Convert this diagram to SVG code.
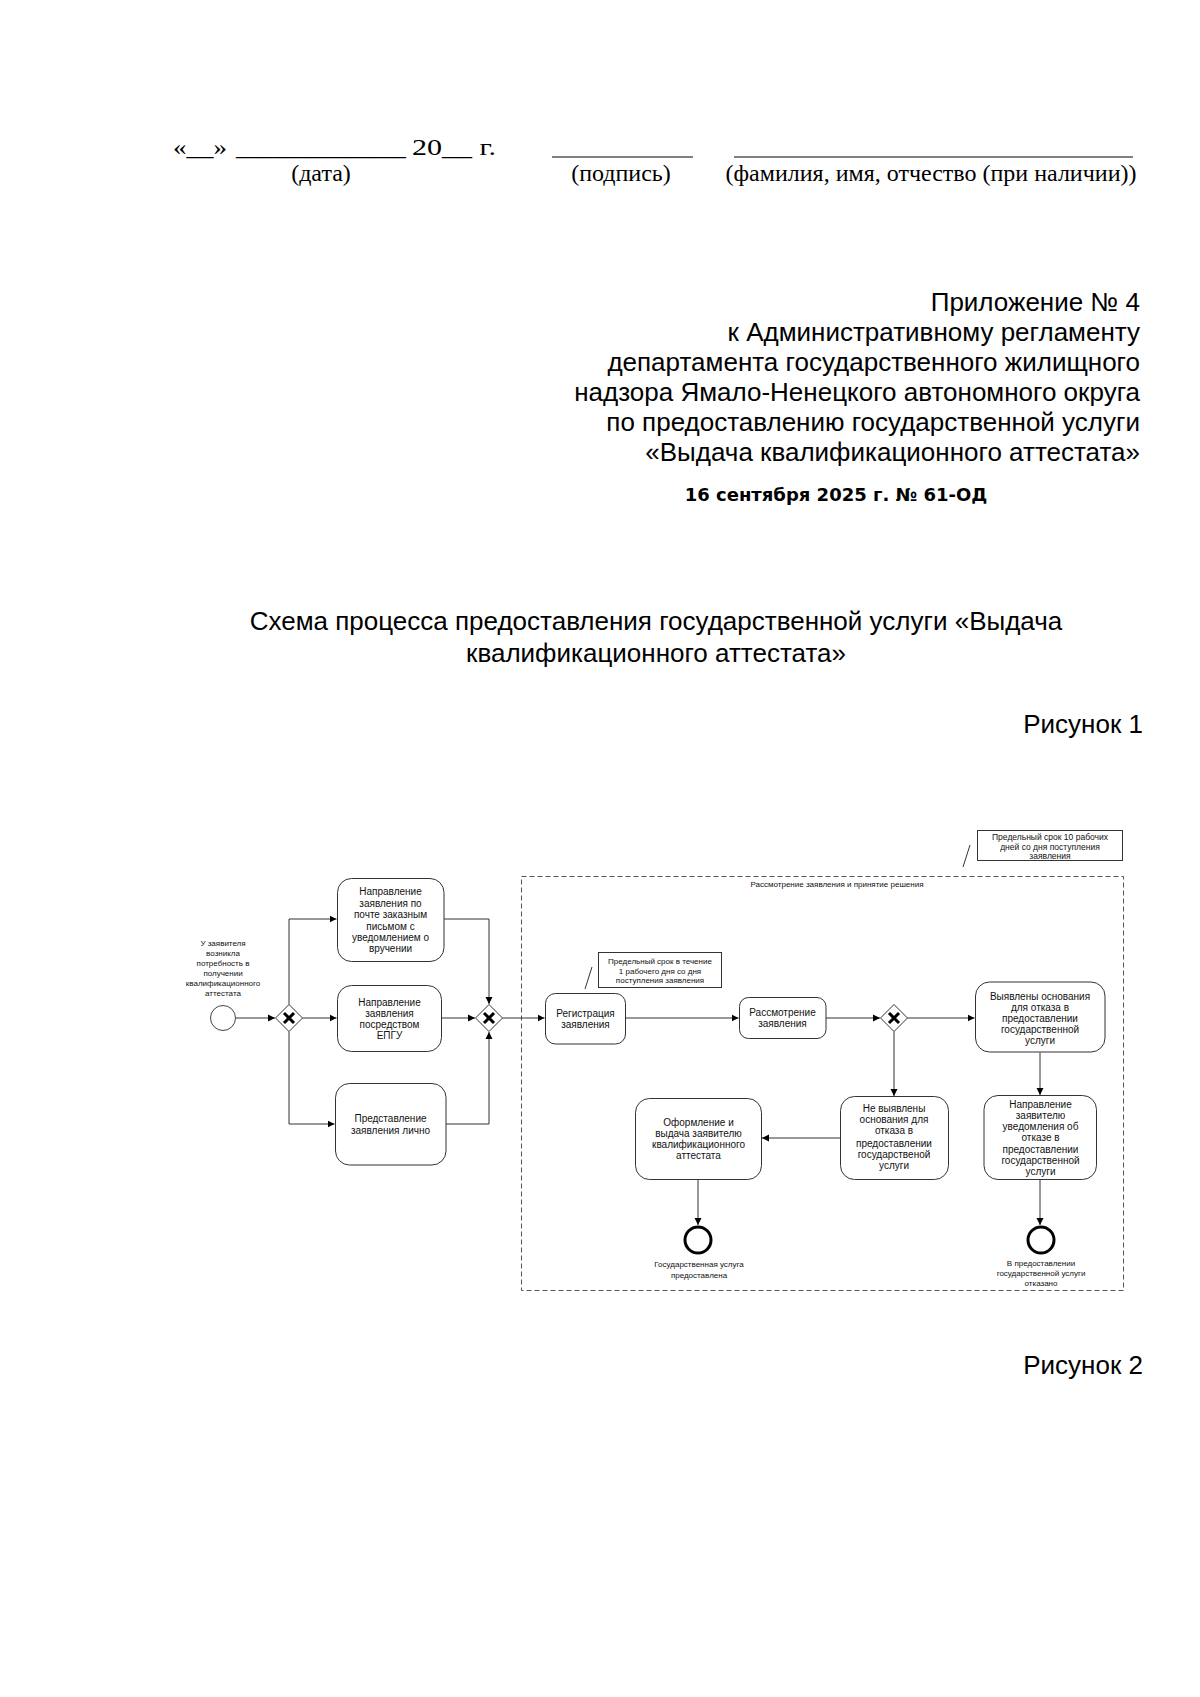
<svg xmlns="http://www.w3.org/2000/svg" width="1200" height="1697" viewBox="0 0 1200 1697">
<defs>
<style>
.serif{font-family:"Liberation Serif","Times New Roman",serif;font-size:24px;fill:#000}
.sans{font-family:"Liberation Sans",Arial,sans-serif;fill:#000}
.big{font-size:26px}
.t10{font-family:"Liberation Sans",Arial,sans-serif;font-size:10px;fill:#111;text-anchor:middle}
.t8{font-family:"Liberation Sans",Arial,sans-serif;font-size:8px;fill:#111;text-anchor:middle}
.task{fill:#fff;stroke:#333;stroke-width:1}
.gw{fill:#fff;stroke:#333;stroke-width:1}
.x{stroke:#000;stroke-width:3;stroke-linecap:butt}
.conn{fill:none;stroke:#333;stroke-width:1}
.note{fill:#fff;stroke:#333;stroke-width:1}
.endev{fill:#fff;stroke:#000;stroke-width:3}
.startev{fill:#fff;stroke:#444;stroke-width:1}
</style>
<marker id="arr" markerWidth="8" markerHeight="8" refX="7" refY="4" orient="auto" markerUnits="userSpaceOnUse">
<path d="M0,0.5 L7,4 L0,7.5 Z" fill="#000"/>
</marker>
</defs>
<rect width="1200" height="1697" fill="#fff"/>

<g id="signature">
<text class="serif" x="173" y="155" textLength="54" lengthAdjust="spacingAndGlyphs">«__»</text>
<text class="serif" x="236" y="155" textLength="170" lengthAdjust="spacingAndGlyphs">______________</text>
<text class="serif" x="412" y="155" textLength="84" lengthAdjust="spacingAndGlyphs">20__ г.</text>
<line x1="552" y1="157" x2="693" y2="157" stroke="#000" stroke-width="1"/>
<line x1="734" y1="157" x2="1133" y2="157" stroke="#000" stroke-width="1"/>
<text class="serif" x="321" y="181" text-anchor="middle">(дата)</text>
<text class="serif" x="621" y="181" text-anchor="middle">(подпись)</text>
<text class="serif" x="931" y="181" text-anchor="middle">(фамилия, имя, отчество (при наличии))</text>
</g>

<g id="appendix" class="sans big" text-anchor="end">
<text x="1140" y="311">Приложение № 4</text>
<text x="1140" y="341">к Административному регламенту</text>
<text x="1140" y="371">департамента государственного жилищного</text>
<text x="1140" y="401">надзора Ямало-Ненецкого автономного округа</text>
<text x="1140" y="431">по предоставлению государственной услуги</text>
<text x="1140" y="461">«Выдача квалификационного аттестата»</text>
</g>
<text id="date" x="836" y="501" text-anchor="middle" font-family="DejaVu Sans, sans-serif" font-weight="bold" font-size="18">16 сентября 2025 г. № 61-ОД</text>

<g id="title" class="sans big" text-anchor="middle">
<text x="656" y="630">Схема процесса предоставления государственной услуги «Выдача</text>
<text x="656" y="662">квалификационного аттестата»</text>
</g>
<text id="fig1" class="sans big" x="1143" y="733" text-anchor="end">Рисунок 1</text>
<text id="fig2" class="sans big" x="1143" y="1374" text-anchor="end">Рисунок 2</text>

<g id="subprocess">
<rect x="521.5" y="876.5" width="602" height="414" fill="none" stroke="#555" stroke-width="1" stroke-dasharray="5,3"/>
<text class="t8" x="837" y="887">Рассмотрение заявления и принятие решения</text>
</g>

<g id="connectors" class="conn">
<line x1="236" y1="1018" x2="275" y2="1018" marker-end="url(#arr)"/>
<polyline points="289,1004.5 289,919 336.5,919" marker-end="url(#arr)"/>
<line x1="302.5" y1="1018" x2="336.5" y2="1018" marker-end="url(#arr)"/>
<polyline points="289,1031.5 289,1124 334.5,1124" marker-end="url(#arr)"/>
<polyline points="444,919 489,919 489,1004" marker-end="url(#arr)"/>
<line x1="442" y1="1018" x2="475" y2="1018" marker-end="url(#arr)"/>
<polyline points="446,1124 489,1124 489,1032" marker-end="url(#arr)"/>
<line x1="502.5" y1="1018" x2="544.5" y2="1018" marker-end="url(#arr)"/>
<line x1="626" y1="1018" x2="738.5" y2="1018" marker-end="url(#arr)"/>
<line x1="826" y1="1018" x2="880" y2="1018" marker-end="url(#arr)"/>
<line x1="907.5" y1="1018" x2="974.5" y2="1018" marker-end="url(#arr)"/>
<line x1="894" y1="1031.5" x2="894" y2="1096" marker-end="url(#arr)"/>
<line x1="1040" y1="1052.5" x2="1040" y2="1095" marker-end="url(#arr)"/>
<line x1="1040" y1="1179.5" x2="1040" y2="1225" marker-end="url(#arr)"/>
<line x1="840" y1="1138" x2="762" y2="1138" marker-end="url(#arr)"/>
<line x1="698" y1="1179.5" x2="698" y2="1225" marker-end="url(#arr)"/>
<line x1="970" y1="845" x2="963" y2="867"/>
<line x1="592" y1="967" x2="585" y2="989"/>
</g>

<g id="start">
<circle class="startev" cx="223" cy="1018" r="12.5"/>
<text class="t8"><tspan x="223" y="946">У заявителя</tspan><tspan x="223" y="956">возникла</tspan><tspan x="223" y="966">потребность в</tspan><tspan x="223" y="976">получении</tspan><tspan x="223" y="986">квалификационного</tspan><tspan x="223" y="996">аттестата</tspan></text>
</g>

<g id="gw1"><path class="gw" d="M289,1004.5 L302.5,1018 L289,1031.5 L275.5,1018 Z"/><path class="x" d="M284,1013 L294,1023 M294,1013 L284,1023"/></g>
<g id="gw2"><path class="gw" d="M489,1004.5 L502.5,1018 L489,1031.5 L475.5,1018 Z"/><path class="x" d="M484,1013 L494,1023 M494,1013 L484,1023"/></g>
<g id="gw3"><path class="gw" d="M894,1004.5 L907.5,1018 L894,1031.5 L880.5,1018 Z"/><path class="x" d="M889,1013 L899,1023 M899,1013 L889,1023"/></g>

<g id="task-post">
<rect class="task" x="337.5" y="878.5" width="106.5" height="83" rx="14"/>
<text class="t10"><tspan x="390.5" y="895">Направление</tspan><tspan x="390.5" y="906.5">заявления по</tspan><tspan x="390.5" y="918">почте заказным</tspan><tspan x="390.5" y="929.5">письмом с</tspan><tspan x="390.5" y="941">уведомлением о</tspan><tspan x="390.5" y="952">вручении</tspan></text>
</g>
<g id="task-epgu">
<rect class="task" x="337.5" y="985.5" width="104" height="66" rx="14"/>
<text class="t10"><tspan x="389.5" y="1006">Направление</tspan><tspan x="389.5" y="1017">заявления</tspan><tspan x="389.5" y="1028">посредством</tspan><tspan x="389.5" y="1039">ЕПГУ</tspan></text>
</g>
<g id="task-personal">
<rect class="task" x="335.5" y="1083.5" width="110.5" height="81.5" rx="14"/>
<text class="t10"><tspan x="390.5" y="1121.5">Представление</tspan><tspan x="390.5" y="1134">заявления лично</tspan></text>
</g>

<g id="task-reg">
<rect class="task" x="545.5" y="993.5" width="80" height="50.5" rx="10"/>
<text class="t10"><tspan x="585.5" y="1016.5">Регистрация</tspan><tspan x="585.5" y="1027.5">заявления</tspan></text>
</g>
<g id="note-reg">
<rect class="note" x="598.5" y="952.5" width="123" height="35"/>
<text class="t8"><tspan x="660" y="963.5">Предельный срок в течение</tspan><tspan x="660" y="973.5">1 рабочего дня со дня</tspan><tspan x="660" y="983">поступления заявления</tspan></text>
</g>
<g id="note-total">
<rect class="note" x="977.5" y="830.5" width="145" height="30"/>
<text class="t8" style="font-size:8.5px"><tspan x="1050" y="840">Предельный срок 10 рабочих</tspan><tspan x="1050" y="849.5">дней со дня поступления</tspan><tspan x="1050" y="859">заявления</tspan></text>
</g>

<g id="task-review">
<rect class="task" x="739.5" y="997.5" width="86.5" height="41" rx="9"/>
<text class="t10"><tspan x="782.5" y="1016">Рассмотрение</tspan><tspan x="782.5" y="1027">заявления</tspan></text>
</g>

<g id="task-found">
<rect class="task" x="975.5" y="982" width="129.5" height="70" rx="14"/>
<text class="t10"><tspan x="1040" y="999.5">Выявлены основания</tspan><tspan x="1040" y="1010.5">для отказа в</tspan><tspan x="1040" y="1021.5">предоставлении</tspan><tspan x="1040" y="1032.5">государственной</tspan><tspan x="1040" y="1043.5">услуги</tspan></text>
</g>
<g id="task-refuse-notice">
<rect class="task" x="984" y="1095.5" width="112.5" height="84" rx="14"/>
<text class="t10"><tspan x="1040.5" y="1107.5">Направление</tspan><tspan x="1040.5" y="1118.5">заявителю</tspan><tspan x="1040.5" y="1129.5">уведомления об</tspan><tspan x="1040.5" y="1140.5">отказе в</tspan><tspan x="1040.5" y="1152.5">предоставлении</tspan><tspan x="1040.5" y="1163.5">государственной</tspan><tspan x="1040.5" y="1175">услуги</tspan></text>
</g>
<g id="task-notfound">
<rect class="task" x="840.5" y="1096.5" width="108" height="83" rx="14"/>
<text class="t10"><tspan x="894" y="1111.5">Не выявлены</tspan><tspan x="894" y="1122.5">основания для</tspan><tspan x="894" y="1134">отказа в</tspan><tspan x="894" y="1146.5">предоставлении</tspan><tspan x="894" y="1157.5">государственой</tspan><tspan x="894" y="1168.5">услуги</tspan></text>
</g>
<g id="task-issue">
<rect class="task" x="635.5" y="1098.5" width="126" height="81" rx="14"/>
<text class="t10"><tspan x="698.5" y="1126">Оформление и</tspan><tspan x="698.5" y="1137">выдача заявителю</tspan><tspan x="698.5" y="1148">квалификационного</tspan><tspan x="698.5" y="1159">аттестата</tspan></text>
</g>

<g id="end-ok">
<circle class="endev" cx="698" cy="1240" r="13"/>
<text class="t8"><tspan x="699" y="1267">Государственная услуга</tspan><tspan x="699" y="1278">предоставлена</tspan></text>
</g>
<g id="end-refused">
<circle class="endev" cx="1041" cy="1240" r="13"/>
<text class="t8"><tspan x="1041" y="1266">В предоставлении</tspan><tspan x="1041" y="1276">государственной услуги</tspan><tspan x="1041" y="1286">отказано</tspan></text>
</g>
</svg>
